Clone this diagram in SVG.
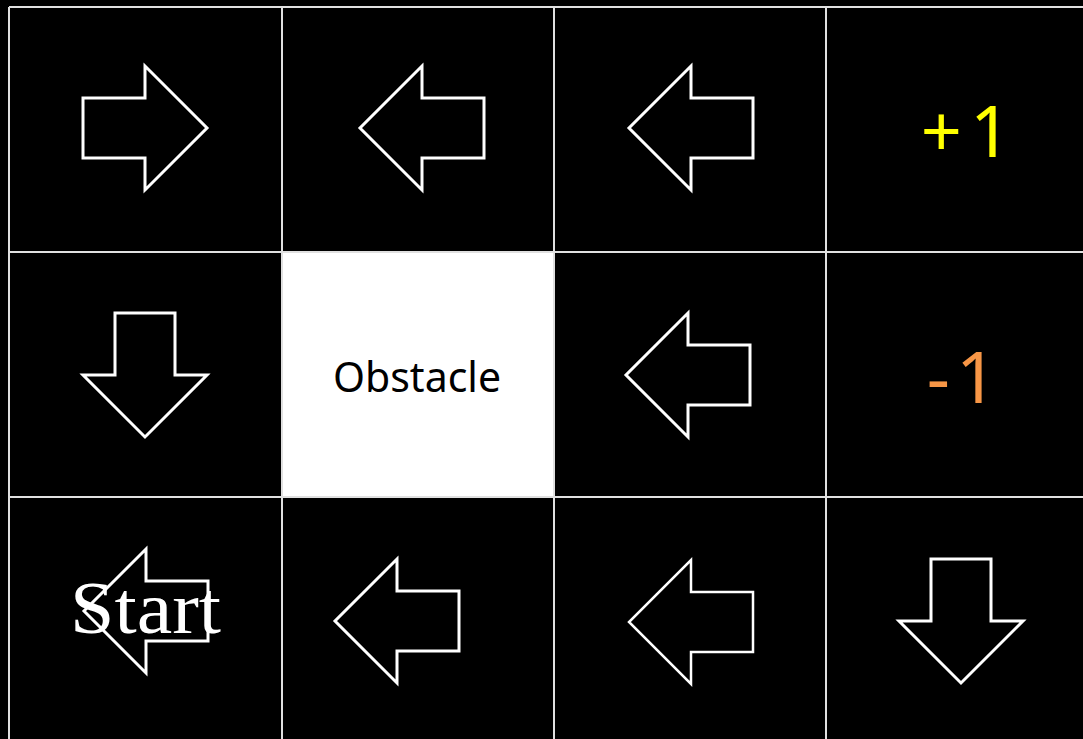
<svg xmlns="http://www.w3.org/2000/svg" xmlns:xlink="http://www.w3.org/1999/xlink" width="1083" height="739" viewBox="0 0 1083 739">
  <style>
    .grid { stroke: #e0e0e0; stroke-width: 2; fill: none; }
    .arrow { fill: none; stroke: #ffffff; stroke-width: 3; }
    .thin { stroke-width: 2.5; }
    .sans { font-family: "Noto Sans", "Open Sans", "DejaVu Sans", sans-serif; }
  </style>
  <defs>
    <path id="arrowR" d="M-62,-30 H0 V-62 L62,0 L0,62 V30 H-62 Z"/>
  </defs>
  <rect x="0" y="0" width="1083" height="739" fill="#000000"/>
  <g id="obstacle">
    <rect x="282" y="252" width="272" height="245" fill="#ffffff"/>
    <text x="417" y="392" class="sans" font-size="41" fill="#000000" text-anchor="middle">Obstacle</text>
  </g>
  <g id="grid">
    <line class="grid" x1="9" y1="7" x2="9" y2="739"/>
    <line class="grid" x1="282" y1="7" x2="282" y2="739"/>
    <line class="grid" x1="554" y1="7" x2="554" y2="739"/>
    <line class="grid" x1="826" y1="7" x2="826" y2="739"/>
    <line class="grid" x1="9" y1="7" x2="1083" y2="7"/>
    <line class="grid" x1="9" y1="252" x2="1083" y2="252"/>
    <line class="grid" x1="9" y1="497" x2="1083" y2="497"/>
  </g>
  <g id="cell-0-0"><use xlink:href="#arrowR" href="#arrowR" class="arrow" transform="translate(145,128)"/></g>
  <g id="cell-0-1"><use xlink:href="#arrowR" href="#arrowR" class="arrow" transform="translate(422,128) rotate(180)"/></g>
  <g id="cell-0-2"><use xlink:href="#arrowR" href="#arrowR" class="arrow" transform="translate(691,128) rotate(180)"/></g>
  <g id="cell-0-3"><text x="966" y="157" class="sans" font-size="72" fill="#ffff00" text-anchor="middle">+<tspan dx="8">1</tspan></text></g>
  <g id="cell-1-0"><use xlink:href="#arrowR" href="#arrowR" class="arrow" transform="translate(145,375) rotate(90)"/></g>
  <g id="cell-1-2"><use xlink:href="#arrowR" href="#arrowR" class="arrow" transform="translate(688,375) rotate(180)"/></g>
  <g id="cell-1-3"><text x="962" y="403" class="sans" font-size="72" fill="#f79646" text-anchor="middle">-<tspan dx="6">1</tspan></text></g>
  <g id="cell-2-0">
    <use xlink:href="#arrowR" href="#arrowR" class="arrow" transform="translate(146,611) rotate(180)"/>
    <text x="70" y="633" font-family="Liberation Serif, serif" font-size="74" fill="#ffffff" textLength="151" lengthAdjust="spacingAndGlyphs">Start</text>
  </g>
  <g id="cell-2-1"><use xlink:href="#arrowR" href="#arrowR" class="arrow" transform="translate(397,621) rotate(180)"/></g>
  <g id="cell-2-2"><use xlink:href="#arrowR" href="#arrowR" class="arrow thin" transform="translate(691,622) rotate(180)"/></g>
  <g id="cell-2-3"><use xlink:href="#arrowR" href="#arrowR" class="arrow" transform="translate(961,621) rotate(90)"/></g>
</svg>
